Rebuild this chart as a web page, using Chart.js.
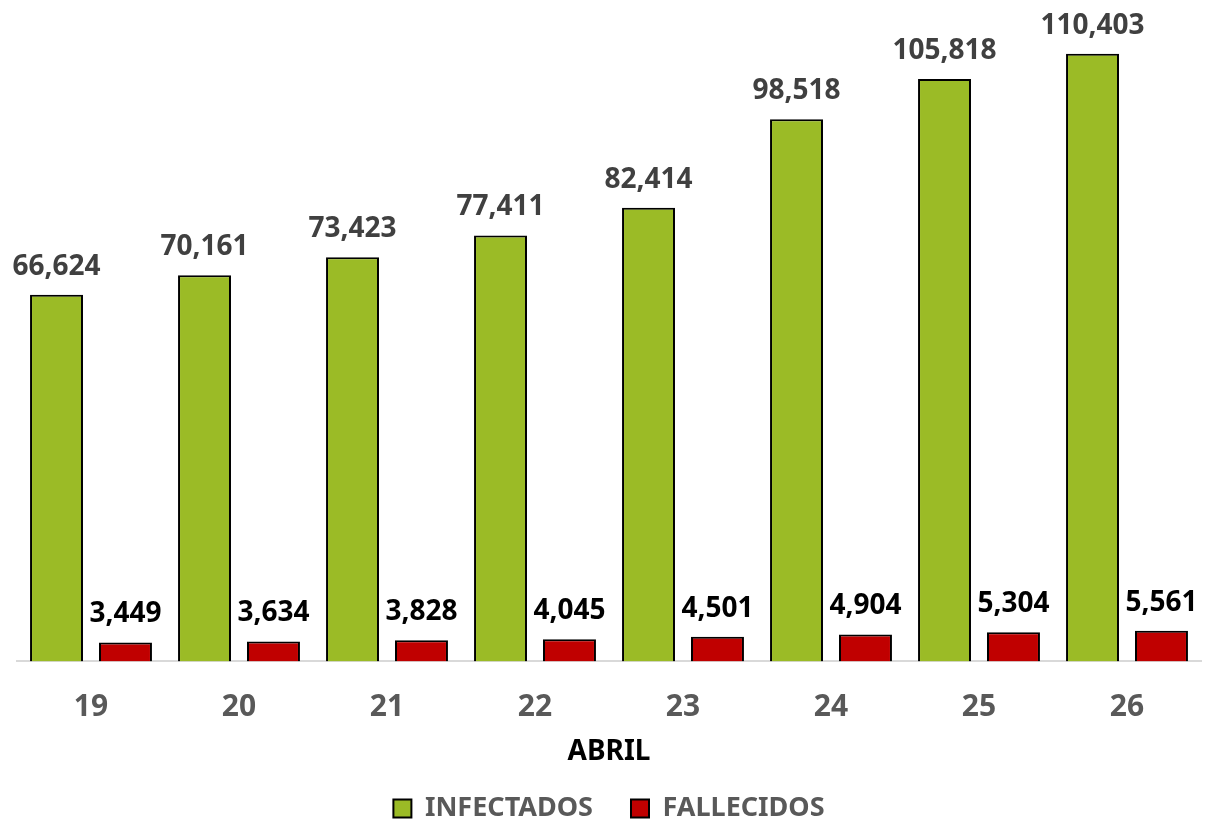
<!DOCTYPE html>
<html>
<head>
<meta charset="utf-8">
<script src="https://cdn.jsdelivr.net/npm/chart.js@4"></script>
<style>
  html, body { margin: 0; padding: 0; background: #fff; }
  #wrap { width: 1208px; height: 820px; }
</style>
</head>
<body>
<div id="wrap"><canvas id="chart" width="1208" height="820"></canvas></div>
<script>
const days = ['19', '20', '21', '22', '23', '24', '25', '26'];
const infectados = [66624, 70161, 73423, 77411, 82414, 98518, 105818, 110403];
const fallecidos = [3449, 3634, 3828, 4045, 4501, 4904, 5304, 5561];

const FONT = "'Noto Sans', 'Open Sans', sans-serif";

// value labels above each bar
const barLabels = {
  id: 'barLabels',
  afterDatasetsDraw(chart) {
    const ctx = chart.ctx;
    ctx.save();
    ctx.font = 'bold 28px ' + FONT;
    ctx.textAlign = 'center';
    ctx.textBaseline = 'bottom';
    chart.data.datasets.forEach((ds, i) => {
      ctx.fillStyle = i === 0 ? '#404040' : '#000000';
      chart.getDatasetMeta(i).data.forEach((bar, j) => {
        ctx.fillText(ds.data[j].toLocaleString('en-US'), bar.x, bar.y - 14);
      });
    });
    ctx.restore();
  }
};

new Chart(document.getElementById('chart'), {
  type: 'bar',
  data: {
    labels: days,
    datasets: [
      { label: 'INFECTADOS', data: infectados, backgroundColor: '#9bbb26', borderColor: '#000', borderWidth: 2 },
      { label: 'FALLECIDOS', data: fallecidos, backgroundColor: '#c00000', borderColor: '#000', borderWidth: 2 }
    ]
  },
  options: {
    responsive: false,
    animation: false,
    categoryPercentage: 0.932,
    barPercentage: 0.768,
    layout: { padding: { top: 1, left: 17, right: 7, bottom: -12 } },
    plugins: {
      legend: {
        position: 'bottom',
        labels: {
          color: '#595959',
          font: { family: FONT, size: 27, weight: 'bold' },
          boxWidth: 18, boxHeight: 18, padding: 38
        }
      },
      tooltip: { enabled: false }
    },
    scales: {
      x: {
        grid: { display: false },
        border: { display: true, color: '#d9d9d9', width: 2 },
        ticks: { color: '#595959', font: { family: FONT, size: 30, weight: 'bold' }, padding: 20 },
        title: { display: true, text: 'ABRIL', color: '#000', font: { family: FONT, size: 28, weight: 'bold' }, padding: { top: -10, bottom: -12 } }
      },
      y: { display: false, min: 0, max: 120000 }
    }
  },
  plugins: [barLabels]
});
</script>
</body>
</html>
